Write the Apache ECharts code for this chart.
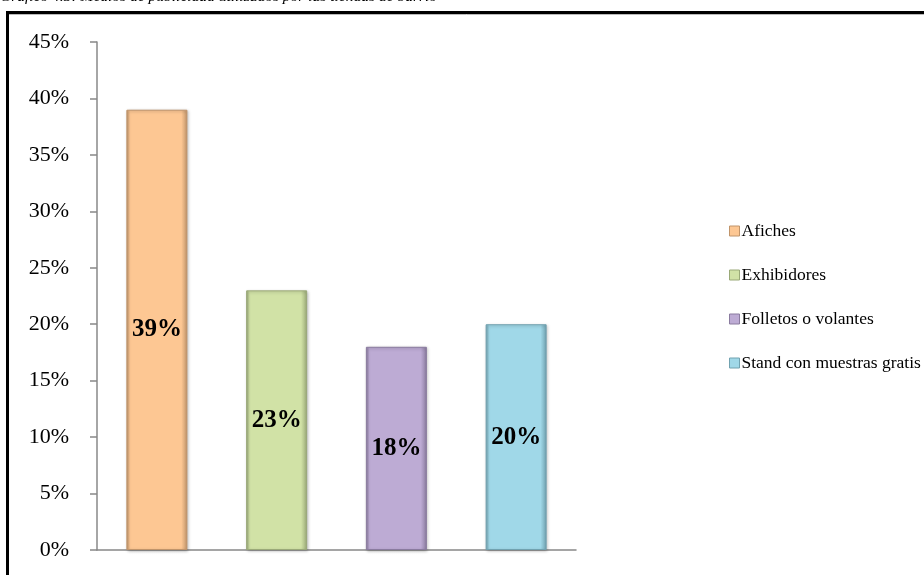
<!DOCTYPE html>
<html>
<head>
<meta charset="utf-8">
<script src="https://cdn.jsdelivr.net/npm/echarts@6/dist/echarts.min.js"></script>
<style>
html,body{margin:0;padding:0;background:#fff;}
#c{width:924px;height:575px;}
</style>
</head>
<body>
<div id="c"></div>
<script>
var titleText = 'Gráfico 4.3: Medios de publicidad utilizados por las tiendas de barrio';
var categories = ['Afiches', 'Exhibidores', 'Folletos o volantes', 'Stand con muestras gratis'];
var values = [39, 23, 18, 20];
var yTicks = {min: 0, max: 45, interval: 5};
var colors = ['#FDC793', '#D1E2A6', '#BDABD4', '#A0D8E8'];
var edges = ['#C0946A', '#9AA978', '#8A7B9F', '#71A2B0'];

var font = '"Liberation Serif", "Times New Roman", serif';

function grad(base, edge) {
  return new echarts.graphic.LinearGradient(0, 0, 1, 0, [
    {offset: 0, color: edge},
    {offset: 0.06, color: base},
    {offset: 0.9, color: base},
    {offset: 1, color: edge}
  ]);
}

var series = categories.map(function (name, i) {
  return {
    name: name,
    type: 'bar',
    stack: 'total',
    barWidth: 61,
    data: categories.map(function (c, j) { return j === i ? values[i] : null; }),
    itemStyle: {
      color: grad(colors[i], edges[i]),
      borderColor: edges[i],
      borderWidth: 1,
      shadowColor: 'rgba(0,0,0,0.25)',
      shadowBlur: 3,
      shadowOffsetX: 1,
      shadowOffsetY: 1
    },
    label: {
      show: true,
      position: 'inside',
      formatter: '{c}%',
      fontFamily: font,
      fontWeight: 'bold',
      fontSize: 25,
      color: '#000'
    }
  };
});

var chart = echarts.init(document.getElementById('c'));
chart.setOption({
  animation: false,
  backgroundColor: '#fff',
  color: colors,
  grid: {left: 97, right: 348, top: 42, bottom: 25, containLabel: false},
  legend: {
    orient: 'vertical',
    left: 724,
    top: 217,
    itemWidth: 10,
    itemHeight: 10,
    itemGap: 26,
    icon: 'rect',
    data: categories.map(function (n, i) {
      return {name: n, itemStyle: {color: colors[i], borderColor: edges[i], borderWidth: 1}};
    }),
    textStyle: {fontFamily: font, fontSize: 17.5, color: '#000', padding: [0, 0, 0, -3]}
  },
  xAxis: {
    type: 'category',
    data: categories,
    axisLine: {lineStyle: {color: '#888', width: 1.5}},
    axisTick: {show: false},
    axisLabel: {show: false},
    splitLine: {show: false}
  },
  yAxis: {
    type: 'value',
    min: yTicks.min,
    max: yTicks.max,
    interval: yTicks.interval,
    axisLine: {show: true, lineStyle: {color: '#888', width: 1.5}},
    axisTick: {show: true, length: 7, lineStyle: {color: '#888', width: 1.5}},
    axisLabel: {formatter: '{value}%', fontFamily: font, fontSize: 22, color: '#000', margin: 28},
    splitLine: {show: false}
  },
  graphic: [
    {
      type: 'text',
      left: 0,
      top: -11,
      style: {text: titleText, fontFamily: font, fontStyle: 'italic', fontSize: 15.5, fill: '#000'}
    },
    {
      type: 'rect',
      shape: {x: 7.5, y: 12.5, width: 940, height: 620},
      style: {fill: 'none', stroke: '#000', lineWidth: 3}
    },
    {
      type: 'line',
      shape: {x1: 9, y1: 14.5, x2: 924, y2: 14.5},
      style: {stroke: '#bbb', lineWidth: 1}
    }
  ],
  series: series
});
</script>
</body>
</html>
